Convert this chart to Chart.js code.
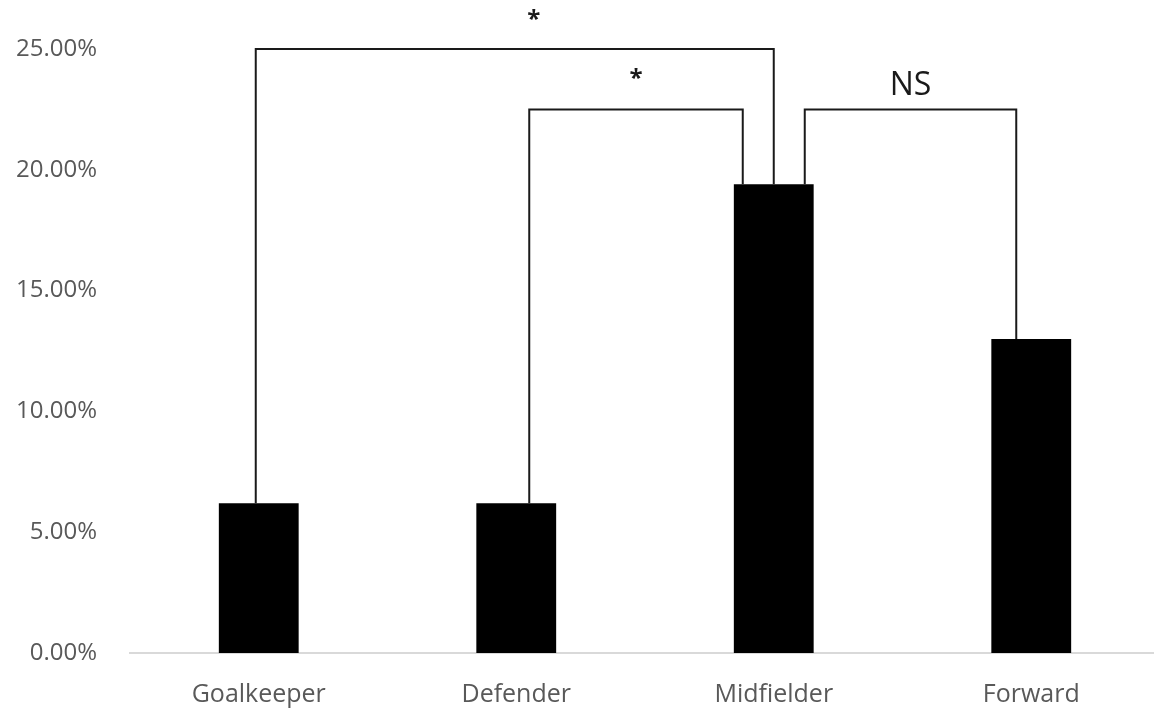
<!DOCTYPE html>
<html>
<head>
<meta charset="utf-8">
<script src="https://cdn.jsdelivr.net/npm/chart.js@4.4.1/dist/chart.umd.min.js"></script>
<style>
  html, body { margin: 0; padding: 0; background: #fff; overflow: hidden; }
  #wrap { width: 1160px; height: 713px; }
</style>
</head>
<body>
<div id="wrap"><canvas id="chart" width="1160" height="713"></canvas></div>
<script>
// chart data
const positions = ["Goalkeeper", "Defender", "Midfielder", "Forward"];
const injuryRates = [6.2, 6.2, 19.4, 13.0]; // percent
const yTicks = [0, 5, 10, 15, 20, 25];

// significance brackets: [from category, to category, level (%), label]
const bracketFrom = [0, 1, 2];
const bracketTo = [2, 2, 3];
const bracketLevel = [25, 22.5, 22.5];
const bracketLabel = ["*", "*", "NS"];

// where each bracket leg meets its bar, px from bar centre (style only)
const legOffsets = [[-3, 0], [13, -31], [31, -15]];
const labelShift = [19, 0, 0];
const labelSize = [24, 24, 32];
const labelRise = [22, 23, 14];

const bracketPlugin = {
  id: "brackets",
  afterDatasetsDraw(chart) {
    const ctx = chart.ctx;
    const xs = chart.scales.x;
    const ys = chart.scales.y;
    ctx.save();
    ctx.strokeStyle = "#1a1a1a";
    ctx.lineWidth = 2;
    ctx.lineJoin = "miter";
    ctx.fillStyle = "#1a1a1a";
    ctx.textAlign = "center";
    ctx.textBaseline = "alphabetic";
    bracketFrom.forEach((a, i) => {
      const b = bracketTo[i];
      const x1 = xs.getPixelForValue(a) + legOffsets[i][0];
      const x2 = xs.getPixelForValue(b) + legOffsets[i][1];
      const yl = ys.getPixelForValue(bracketLevel[i]);
      const y1 = ys.getPixelForValue(injuryRates[a]);
      const y2 = ys.getPixelForValue(injuryRates[b]);
      ctx.beginPath();
      ctx.moveTo(x1, y1);
      ctx.lineTo(x1, yl);
      ctx.lineTo(x2, yl);
      ctx.lineTo(x2, y2);
      ctx.stroke();
      ctx.font = (bracketLabel[i] === "*" ? "bold " : "") + labelSize[i] + "px 'Open Sans'";
      ctx.fillText(bracketLabel[i], (x1 + x2) / 2 + labelShift[i], yl - labelRise[i]);
    });
    ctx.restore();
  }
};

new Chart(document.getElementById("chart"), {
  type: "bar",
  data: {
    labels: positions,
    datasets: [{
      data: injuryRates,
      backgroundColor: "#000000",
      borderWidth: 0,
      barPercentage: 1,
      categoryPercentage: 0.31
    }]
  },
  options: {
    responsive: false,
    animation: false,
    layout: { padding: { top: 49, left: 0, right: 0, bottom: 0 } },
    plugins: {
      legend: { display: false },
      tooltip: { enabled: false }
    },
    scales: {
      x: {
        grid: { display: false },
        border: { display: true, color: "#d9d9d9", width: 2 },
        ticks: {
          color: "#595959",
          font: { family: "'Open Sans'", size: 25 },
          padding: 19,
          maxRotation: 0,
          autoSkip: false
        },
        afterFit(scale) { scale.height = 60; }
      },
      y: {
        min: 0,
        max: 25,
        grid: { display: false },
        border: { display: false },
        afterBuildTicks(scale) {
          scale.ticks = yTicks.map(v => ({ value: v }));
        },
        ticks: {
          color: "#595959",
          font: { family: "'Open Sans'", size: 24 },
          padding: 25,
          callback: v => v.toFixed(2) + "%"
        },
        afterFit(scale) { scale.width = 130; }
      }
    }
  },
  plugins: [bracketPlugin]
});
</script>
</body>
</html>
